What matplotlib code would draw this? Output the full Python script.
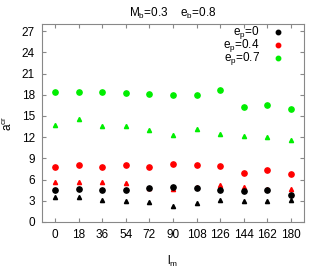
import matplotlib.pyplot as plt

# angles l_m
lm = [0, 18, 36, 54, 72, 90, 108, 126, 144, 162, 180]

# circles (legend series)
a_ep0 = [4.5, 4.6, 4.5, 4.5, 4.8, 4.9, 4.8, 4.5, 4.4, 4.5, 3.8]
a_ep04 = [7.8, 8.0, 7.8, 8.0, 7.8, 8.2, 8.0, 7.9, 7.0, 7.4, 6.8]
a_ep07 = [18.4, 18.4, 18.4, 18.3, 18.1, 18.0, 18.0, 18.6, 16.3, 16.5, 16.0]

# triangles
t_ep0 = [3.6, 3.5, 3.1, 2.9, 2.8, 2.3, 2.7, 3.1, 2.9, 2.9, 3.1]
t_ep04 = [5.7, 5.7, 5.7, 5.5, 4.8, 4.6, 4.9, 5.2, 4.9, 4.7, 4.7]
t_ep07 = [13.7, 14.5, 13.6, 13.6, 13.0, 12.3, 13.1, 12.5, 12.2, 12.0, 11.6]

labels = [r'e$_\mathrm{p}$=0', r'e$_\mathrm{p}$=0.4', r'e$_\mathrm{p}$=0.7']
colors = ['black', 'red', '#00ee00']

plt.rcParams['font.family'] = ['Liberation Sans', 'DejaVu Sans']
plt.rcParams['font.size'] = 8.5
plt.rcParams['mathtext.fontset'] = 'custom'
plt.rcParams['mathtext.rm'] = 'Liberation Sans'
plt.rcParams['mathtext.it'] = 'Liberation Sans'

fig = plt.figure(figsize=(3.22, 2.73), dpi=100)
ax = fig.add_axes([42/322, 1 - 222/273, (304-42)/322, (222-24)/273])

for t, c in zip([t_ep0, t_ep04, t_ep07], colors):
    ax.plot(lm, t, '^', color=c, ms=3.0, ls='none')
for a, c in zip([a_ep04, a_ep07, a_ep0], [colors[1], colors[2], colors[0]]):
    ax.plot(lm, a, 'o', color=c, ms=3.8, ls='none')

# gnuplot-style key: labels right aligned, point to the right
for i, (lab, c) in enumerate(zip(labels, colors)):
    yk = 0.958 - i * 0.066
    ax.text(0.832, yk, lab, transform=ax.transAxes, ha='right', va='center')
    ax.plot([0.90], [yk], 'o', color=c, ms=3.2, transform=ax.transAxes, clip_on=False)

ax.set_xlim(-10, 190)
ax.set_ylim(0, 28)
ax.set_xticks(lm)
ax.set_yticks(range(0, 28, 3))
ax.tick_params(direction='in', top=True, right=True, length=3, color='#888888', pad=5)
for s in ax.spines.values():
    s.set_color('#888888')

ax.set_title(r'M$_\mathrm{b}$=0.3    e$_\mathrm{b}$=0.8', fontsize=8.5, pad=5)
ax.set_ylabel(r'a$^\mathrm{cr}$', labelpad=5)
ax.set_xlabel(r'l$_\mathrm{m}$', labelpad=9)

fig.savefig('out.png', dpi=100)
